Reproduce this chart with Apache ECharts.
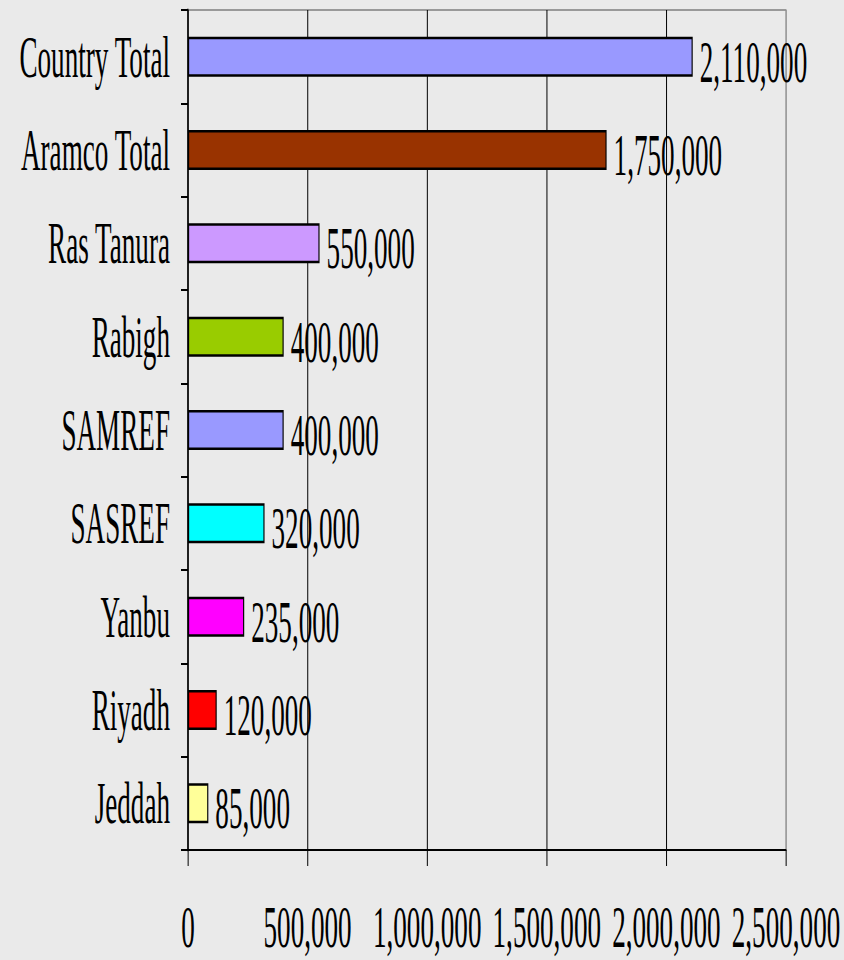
<!DOCTYPE html>
<html>
<head>
<meta charset="utf-8">
<title>Refinery capacity</title>
<script src="https://cdn.jsdelivr.net/npm/echarts@6/dist/echarts.min.js"></script>
<style>
  html, body { margin: 0; padding: 0; background: #eaeaea; overflow: hidden; }
  #wrap { width: 844px; height: 960px; overflow: hidden; }
  /* the original text is very narrow, so the chart is drawn wide and squeezed */
  #chart { width: 1835px; height: 960px; transform: scaleX(0.46); transform-origin: 0 0; }
</style>
</head>
<body>
<div id="wrap"><div id="chart"></div></div>
<script>
// data
const categories = ['Country Total', 'Aramco Total', 'Ras Tanura', 'Rabigh', 'SAMREF', 'SASREF', 'Yanbu', 'Riyadh', 'Jeddah'];
const capacity = [2110000, 1750000, 550000, 400000, 400000, 320000, 235000, 120000, 85000];
const axisMin = 0;
const axisMax = 2500000;
const axisStep = 500000;

const barColors = ['#9999ff', '#993300', '#cc99ff', '#99cc00', '#9999ff', '#00ffff', '#ff00ff', '#ff0000', '#ffff99'];

const SX = 0.46;          // horizontal squeeze
const W = 1835;           // unsqueezed width
const wx = v => v / SX;   // screen px -> unsqueezed px (horizontal only)
const font = '"Liberation Serif", "Times New Roman", serif';
const fmt = v => Number(v).toLocaleString('en-US');

const chart = echarts.init(document.getElementById('chart'), null, { renderer: 'svg' });

chart.setOption({
  backgroundColor: '#eaeaea',
  color: barColors,
  animation: false,
  grid: {
    left: wx(188),
    right: W - wx(786),
    top: 10,
    bottom: 110,
    show: true,
    borderColor: '#999',
    borderWidth: 2,
    backgroundColor: 'transparent'
  },
  xAxis: {
    type: 'value',
    min: axisMin,
    max: axisMax,
    interval: axisStep,
    axisLine: { show: true, lineStyle: { color: '#000', width: 2 } },
    axisTick: { show: true, length: 16, lineStyle: { color: '#000', width: wx(1) } },
    axisLabel: {
      color: '#000',
      fontFamily: font,
      fontSize: 59,
      margin: 48,
      formatter: fmt
    },
    splitLine: {
      show: true,
      lineStyle: { color: ['#000', '#000', '#000', '#000', '#000', '#888'], width: wx(1) }
    }
  },
  yAxis: {
    type: 'category',
    inverse: true,
    data: categories,
    axisLine: { show: true, lineStyle: { color: '#000', width: wx(1.3) } },
    axisTick: { show: true, length: wx(7), lineStyle: { color: '#000', width: 2 } },
    axisLabel: {
      color: '#000',
      fontFamily: font,
      fontSize: 59,
      margin: wx(18)
    },
    splitLine: { show: false }
  },
  series: [{
    type: 'bar',
    colorBy: 'data',
    data: capacity,
    barWidth: 40,
    itemStyle: { borderColor: '#000', borderWidth: 2.5 },
    label: {
      show: true,
      position: 'right',
      distance: wx(7),
      offset: [0, 5],
      color: '#000',
      fontFamily: font,
      fontSize: 59,
      formatter: p => fmt(p.value)
    }
  }]
});
</script>
</body>
</html>
